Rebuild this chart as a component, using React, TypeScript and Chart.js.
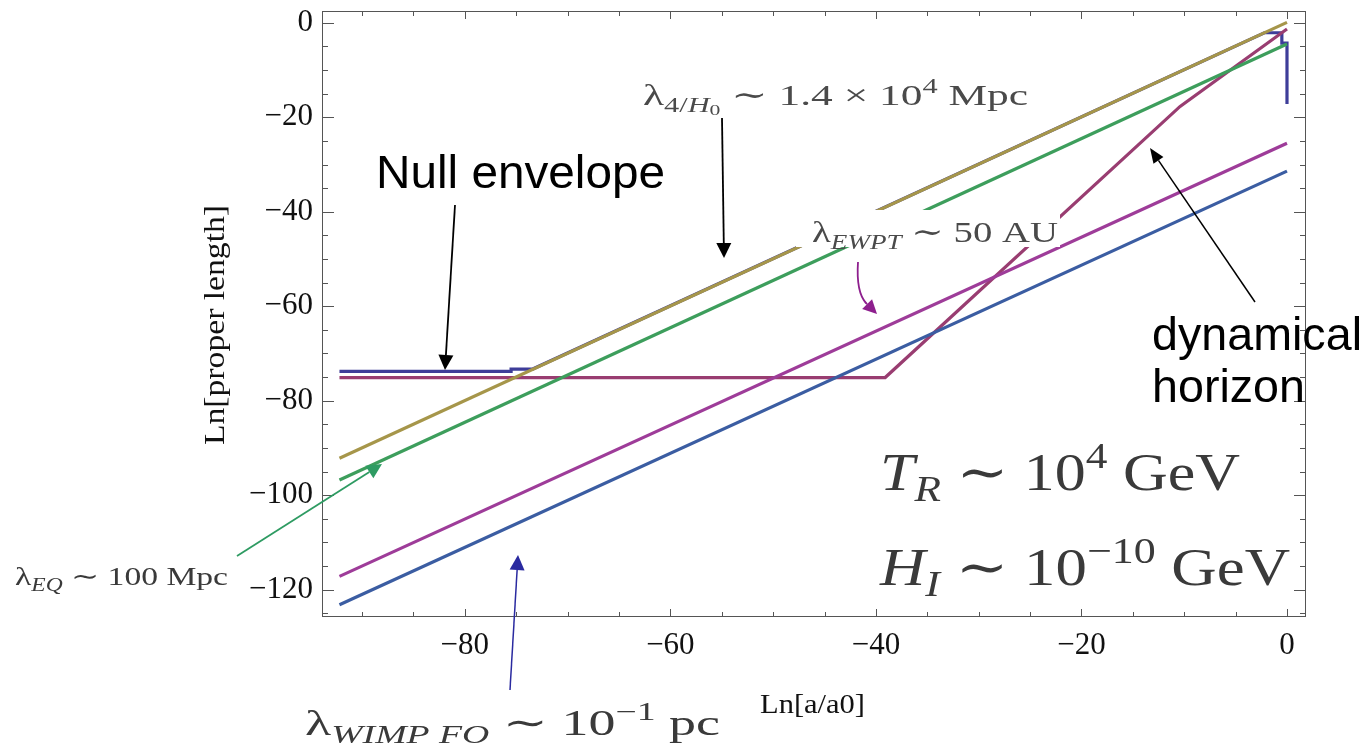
import React, { useEffect, useRef } from "react";
import { Chart, registerables } from "chart.js";

Chart.register(...registerables);

// ---- data ----
const goldX = [-92.2, 0];
const goldY = [-92.2, 0.1];
const greenX = [-92.2, 0];
const greenY = [-96.8, -4.5];
const ewptX = [-92.2, 0];
const ewptY = [-117.2, -25.5];
const wimpX = [-92.2, 0];
const wimpY = [-123.2, -31.4];
const envX = [-92.2, -75.5, -75.5, -73.4, -2.2, -0.5, -0.5, 0, 0];
const envY = [-73.8, -73.8, -73.3, -73.3, -2.1, -2.1, -4.3, -4.3, -17.2];
const horX = [-92.2, -39.1, -10.4, 0];
const horY = [-75.1, -75.1, -17.7, -1.3];

const xMajor = [-80, -60, -40, -20, 0];
const xMinor = [-90, -85, -75, -70, -65, -55, -50, -45, -35, -30, -25, -15, -10, -5];
const yMajor = [0, -20, -40, -60, -80, -100, -120];
const yMinor = [-5, -10, -15, -25, -30, -35, -45, -50, -55, -65, -70, -75, -85, -90, -95, -105, -110, -115, -125];

const X_MIN = -93.9;
const X_MAX = 1.85;
const Y_MIN = -125.8;
const Y_MAX = 2.5;

const SERIF = "'Liberation Serif', 'Times New Roman', 'DejaVu Serif', serif";
const SANS = "'Liberation Sans', Arial, sans-serif";

type Seg = { t: string; it?: boolean; sc?: number; dy?: number };

function drawRich(
  ctx: CanvasRenderingContext2D,
  segs: Seg[],
  x: number,
  y: number,
  size: number,
  family: string,
  color: string,
  targetW?: number
) {
  const fontFor = (s: Seg) => `${s.it ? "italic " : ""}${(s.sc ?? 1) * size}px ${family}`;
  let w = 0;
  for (const s of segs) {
    ctx.font = fontFor(s);
    w += ctx.measureText(s.t).width;
  }
  const sx = targetW ? targetW / w : 1;
  ctx.save();
  ctx.translate(x, y);
  ctx.scale(sx, 1);
  ctx.fillStyle = color;
  ctx.textAlign = "left";
  ctx.textBaseline = "alphabetic";
  let cx = 0;
  for (const s of segs) {
    ctx.font = fontFor(s);
    ctx.fillText(s.t, cx, (s.dy ?? 0) * size);
    cx += ctx.measureText(s.t).width;
  }
  ctx.restore();
}

function drawArrow(
  ctx: CanvasRenderingContext2D,
  x1: number,
  y1: number,
  x2: number,
  y2: number,
  color: string,
  lw: number,
  headLen: number,
  headW: number
) {
  const ang = Math.atan2(y2 - y1, x2 - x1);
  const bx = x2 - headLen * Math.cos(ang);
  const by = y2 - headLen * Math.sin(ang);
  ctx.save();
  ctx.strokeStyle = color;
  ctx.fillStyle = color;
  ctx.lineWidth = lw;
  ctx.beginPath();
  ctx.moveTo(x1, y1);
  ctx.lineTo(bx, by);
  ctx.stroke();
  ctx.beginPath();
  ctx.moveTo(x2, y2);
  ctx.lineTo(bx + headW * Math.sin(ang), by - headW * Math.cos(ang));
  ctx.lineTo(bx - headW * Math.sin(ang), by + headW * Math.cos(ang));
  ctx.closePath();
  ctx.fill();
  ctx.restore();
}

const annotPlugin = {
  id: "annot",
  afterDraw(chart: any) {
    const ctx: CanvasRenderingContext2D = chart.ctx;
    const { left, right, top, bottom } = chart.chartArea;
    const xs = chart.scales.x;
    const ys = chart.scales.y;
    ctx.save();

    // white box behind the EWPT label
    ctx.fillStyle = "#ffffff";
    ctx.fillRect(796, 210, 264, 37);

    // frame
    ctx.strokeStyle = "#555555";
    ctx.lineWidth = 1;
    ctx.strokeRect(left + 0.5, top + 0.5, right - left - 1, bottom - top - 1);

    // ticks
    ctx.beginPath();
    for (const v of [...xMajor, ...xMinor]) {
      const px = Math.round(xs.getPixelForValue(v)) + 0.5;
      const len = xMajor.includes(v) ? 8 : 5;
      ctx.moveTo(px, bottom);
      ctx.lineTo(px, bottom - len);
      ctx.moveTo(px, top);
      ctx.lineTo(px, top + len);
    }
    for (const v of [...yMajor, ...yMinor]) {
      const py = Math.round(ys.getPixelForValue(v)) + 0.5;
      const len = yMajor.includes(v) ? 12 : 6;
      ctx.moveTo(left, py);
      ctx.lineTo(left + len, py);
      ctx.moveTo(right, py);
      ctx.lineTo(right - len, py);
    }
    ctx.stroke();

    // axis titles
    ctx.save();
    ctx.translate(224, 325);
    ctx.rotate(-Math.PI / 2);
    drawRich(ctx, [{ t: "Ln[proper length]" }], -120, 0, 30, SERIF, "#111111", 240);
    ctx.restore();
    drawRich(ctx, [{ t: "Ln[a/a0]" }], 760, 713, 28, SERIF, "#111111", 105);

    // math labels
    drawRich(
      ctx,
      [
        { t: "λ" },
        { t: "4/", sc: 0.7, dy: 0.22 },
        { t: "H", it: true, sc: 0.7, dy: 0.22 },
        { t: "0", sc: 0.5, dy: 0.32 },
        { t: " ∼ 1.4 × 10" },
        { t: "4", sc: 0.7, dy: -0.4 },
        { t: " Mpc" },
      ],
      643,
      105,
      30,
      SERIF,
      "#4a4a4a",
      385
    );
    drawRich(
      ctx,
      [{ t: "λ" }, { t: "EWPT", it: true, sc: 0.7, dy: 0.22 }, { t: " ∼ 50 AU" }],
      812,
      242,
      30,
      SERIF,
      "#4a4a4a",
      246
    );
    drawRich(
      ctx,
      [{ t: "T", it: true }, { t: "R", it: true, sc: 0.7, dy: 0.22 }, { t: " ∼ 10" }, { t: "4", sc: 0.7, dy: -0.42 }, { t: " GeV" }],
      880,
      490,
      52,
      SERIF,
      "#3a3a3a",
      360
    );
    drawRich(
      ctx,
      [{ t: "H", it: true }, { t: "I", it: true, sc: 0.7, dy: 0.22 }, { t: " ∼ 10" }, { t: "−10", sc: 0.7, dy: -0.42 }, { t: " GeV" }],
      880,
      585,
      52,
      SERIF,
      "#3a3a3a",
      410
    );
    drawRich(
      ctx,
      [{ t: "λ" }, { t: "EQ", it: true, sc: 0.7, dy: 0.22 }, { t: " ∼ 100 Mpc" }],
      15,
      585,
      26,
      SERIF,
      "#3a3a3a",
      213
    );
    drawRich(
      ctx,
      [{ t: "λ" }, { t: "WIMP FO", it: true, sc: 0.7, dy: 0.22 }, { t: " ∼ 10" }, { t: "−1", sc: 0.7, dy: -0.42 }, { t: " pc" }],
      305,
      735,
      36,
      SERIF,
      "#3a3a3a",
      415
    );

    // sans labels
    drawRich(ctx, [{ t: "Null envelope" }], 376, 188, 46, SANS, "#000000", 289);
    drawRich(ctx, [{ t: "dynamical" }], 1152, 350, 46, SANS, "#000000", 210);
    drawRich(ctx, [{ t: "horizon" }], 1152, 402, 46, SANS, "#000000", 153);

    // arrows
    drawArrow(ctx, 455, 205, 445, 370, "#000000", 1.8, 15, 7.5);
    drawArrow(ctx, 722, 118, 724, 258, "#000000", 1.8, 15, 7.5);
    drawArrow(ctx, 1255, 302, 1150, 148, "#000000", 1.5, 15, 6);
    drawArrow(ctx, 237, 556, 382, 464, "#2E9B62", 1.8, 15, 7.5);
    drawArrow(ctx, 510, 690, 518, 555, "#2A2AA0", 1.5, 15, 7.5);

    // curved EWPT arrow
    ctx.strokeStyle = "#8E1F8E";
    ctx.lineWidth = 1.8;
    ctx.beginPath();
    ctx.moveTo(858, 262);
    ctx.quadraticCurveTo(856, 292, 866, 303);
    ctx.stroke();
    drawArrow(ctx, 865, 302, 877, 314, "#8E1F8E", 1.8, 14, 7);

    ctx.restore();
  },
};

const fmt = (v: number) => (v < 0 ? "−" + Math.abs(v) : String(v));

export default function App() {
  const ref = useRef<HTMLCanvasElement | null>(null);
  useEffect(() => {
    if (!ref.current) return;
    const pts = (xs: number[], ys: number[]) => xs.map((x, i) => ({ x, y: ys[i] }));
    const chart = new Chart(ref.current, {
      type: "line",
      data: {
        datasets: [
          { label: "null envelope", data: pts(envX, envY), borderColor: "#3E3D99", order: 6 },
          { label: "dynamical horizon", data: pts(horX, horY), borderColor: "#993D71", order: 5 },
          { label: "λ4/H0", data: pts(goldX, goldY), borderColor: "#A6964A", order: 4 },
          { label: "λEQ", data: pts(greenX, greenY), borderColor: "#3D9E5C", order: 3 },
          { label: "λEWPT", data: pts(ewptX, ewptY), borderColor: "#9E3C99", order: 2 },
          { label: "λWIMPFO", data: pts(wimpX, wimpY), borderColor: "#3B5DA2", order: 1 },
        ],
      },
      options: {
        animation: false,
        responsive: false,
        devicePixelRatio: 1,
        layout: { padding: { top: 11, right: 66, left: 0, bottom: 0 } },
        plugins: { legend: { display: false }, tooltip: { enabled: false } },
        elements: {
          point: { radius: 0 },
          line: { borderWidth: 3.2, tension: 0, fill: false },
        },
        scales: {
          x: {
            type: "linear",
            min: X_MIN,
            max: X_MAX,
            grid: { display: false, drawTicks: false },
            border: { display: false },
            afterBuildTicks: (s: any) => {
              s.ticks = xMajor.map((v) => ({ value: v }));
            },
            afterFit: (s: any) => {
              s.height = 137;
              s.paddingLeft = 0;
              s.paddingRight = 0;
            },
            ticks: {
              padding: 10,
              autoSkip: false,
              maxRotation: 0,
              color: "#111111",
              font: { family: SERIF, size: 31 },
              callback: (v: any) => fmt(Number(v)),
            },
          },
          y: {
            type: "linear",
            min: Y_MIN,
            max: Y_MAX,
            grid: { display: false, drawTicks: false },
            border: { display: false },
            afterBuildTicks: (s: any) => {
              s.ticks = yMajor.map((v) => ({ value: v }));
            },
            afterFit: (s: any) => {
              s.width = 322;
              s.paddingTop = 0;
              s.paddingBottom = 0;
            },
            ticks: {
              padding: 9,
              autoSkip: false,
              color: "#111111",
              font: { family: SERIF, size: 31 },
              callback: (v: any) => fmt(Number(v)),
            },
          },
        },
      },
      plugins: [annotPlugin],
    } as any);
    return () => chart.destroy();
  }, []);
  return (
    <canvas
      ref={ref}
      width={1372}
      height={754}
      style={{ position: "fixed", left: 0, top: 0, width: 1372, height: 754 }}
    />
  );
}
